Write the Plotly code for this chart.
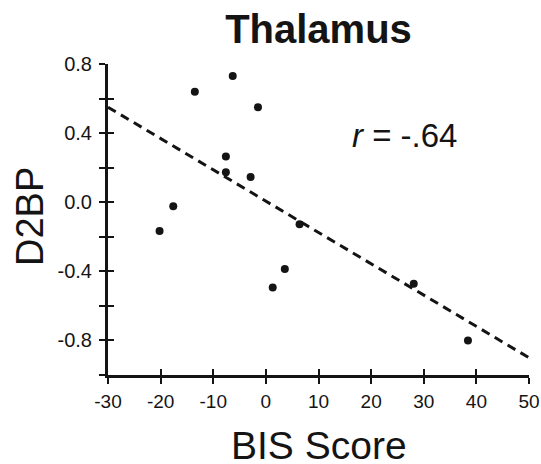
import plotly.graph_objects as go

# Data
bis_score = [-13.5, -6.3, -1.5, -7.6, -7.6, -2.9, -17.6, -20.2, 6.4, 3.6, 1.3, 28.1, 38.4]
d2bp = [0.64, 0.73, 0.55, 0.265, 0.174, 0.146, -0.023, -0.167, -0.128, -0.386, -0.493, -0.472, -0.80]
fit_x = [-30, 50]
fit_y = [0.55, -0.90]
x_ticks = [-30, -20, -10, 0, 10, 20, 30, 40, 50]
y_ticks = [0.8, 0.6, 0.4, 0.2, 0.0, -0.2, -0.4, -0.6, -0.8, -1.0]
y_ticktext = ["0.8", "", "0.4", "", "0.0", "", "-0.4", "", "-0.8", ""]
x_ticktext = ["-30", "-20", "-10", "0", "10", "20", "30", "40", "50"]

INK = "#141414"
FONT = "Liberation Sans, Arial, sans-serif"

W, H = 541, 464

fig = go.Figure()
fig.add_trace(go.Scatter(x=fit_x, y=fit_y, mode="lines",
                         line=dict(color=INK, width=3, dash="9px,6px"),
                         hoverinfo="skip", showlegend=False))
fig.add_trace(go.Scatter(x=bis_score, y=d2bp, mode="markers",
                         marker=dict(color=INK, size=8),
                         showlegend=False))
# invisible trace for the overlay axes (inner half of crossing ticks)
fig.add_trace(go.Scatter(x=fit_x, y=fit_y, mode="lines", xaxis="x2", yaxis="y2",
                         line=dict(width=0), opacity=0, hoverinfo="skip", showlegend=False))

common = dict(showgrid=False, zeroline=False, showline=True, linecolor=INK,
              linewidth=3, tickcolor=INK, tickwidth=2, ticklen=6, automargin=False)

fig.update_layout(
    width=W, height=H,
    margin=dict(l=108, r=12, t=64, b=89),
    paper_bgcolor="white", plot_bgcolor="white",
    font=dict(family=FONT, color=INK),
    title=dict(text="<b>Thalamus</b>", x=0.5, xref="paper", xanchor="center",
               y=1 - 29 / H, yref="container", yanchor="middle",
               font=dict(size=40, family=FONT, color=INK)),
    xaxis=dict(range=[-30, 50], tickmode="array", tickvals=x_ticks, ticktext=x_ticktext,
               ticks="outside", tickfont=dict(size=19), ticklabelstandoff=1, **common),
    yaxis=dict(range=[-1.0, 0.8], tickmode="array", tickvals=y_ticks, ticktext=y_ticktext,
               ticks="outside", tickfont=dict(size=20), ticklabelstandoff=3, **common),
    xaxis2=dict(range=[-30, 50], overlaying="x", anchor="y2", side="bottom",
                tickmode="array", tickvals=x_ticks, ticks="inside", showticklabels=False,
                **common),
    yaxis2=dict(range=[-1.0, 0.8], overlaying="y", anchor="x2", side="left",
                tickmode="array", tickvals=y_ticks, ticks="inside", showticklabels=False,
                **common),
    annotations=[
        dict(text="<i>r</i> = -.64", x=16, y=0.385, xref="x", yref="y",
             xanchor="left", yanchor="middle", showarrow=False,
             font=dict(size=33, family=FONT, color=INK)),
        dict(text="BIS Score", x=0.5, y=0, xref="paper", yref="paper",
             xanchor="center", yanchor="middle", yshift=-70, showarrow=False,
             height=34, valign="middle",
             font=dict(size=39, family=FONT, color=INK)),
        dict(text="D2BP", x=0, y=0.508, xref="paper", yref="paper",
             xanchor="center", yanchor="middle", xshift=-78, textangle=-90, showarrow=False,
             font=dict(size=38, family=FONT, color=INK)),
    ],
)

fig.write_html(
    "out.html",
    config={"displayModeBar": False, "staticPlot": True},
    post_script="document.body.style.margin='0';document.body.style.overflow='hidden';",
)
